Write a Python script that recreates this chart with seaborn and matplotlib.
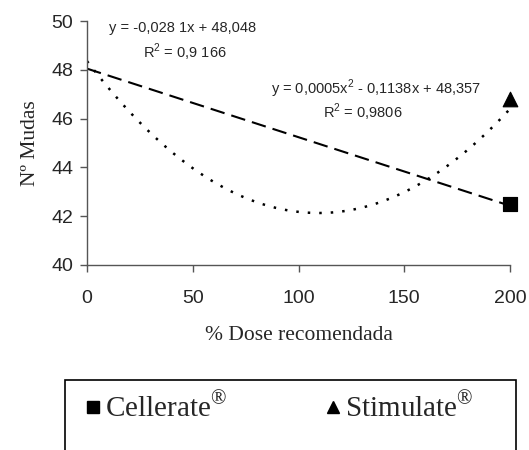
import numpy as np
import pandas as pd
import seaborn as sns
import matplotlib
matplotlib.use('Agg')
from matplotlib import pyplot as plt
from matplotlib.patches import Rectangle

products = ['Cellerate', 'Stimulate']
dose_obs = [200, 200]
mudas_obs = [42.5, 46.8]

# Trendline coefficients as printed on the chart
# (leading quad term printed as 0,0005 is rounded; ~0.00052 matches the drawn curve)
lin_coef = [-0.0281, 48.048]
quad_coef = [0.00052, -0.1138, 48.357]

eq_lin = ['y = -0,028 1x + 48,048', r'R$^\mathregular{2}$ = 0,9 166']
eq_quad = [r'y = 0,0005x$^\mathregular{2}$ - 0,1138x + 48,357', r'R$^\mathregular{2}$ = 0,9806']

sns.set_style('ticks')
plt.rcParams['font.family'] = ['Liberation Sans', 'DejaVu Sans']

fig = plt.figure(figsize=(5.29, 4.5), dpi=100)
ax = fig.add_axes([87/529, 1-265/450, 423/529, 244/450])

xs = np.linspace(0, 200, 201)
trend = pd.DataFrame({'x': xs,
                      'lin': np.polyval(lin_coef, xs),
                      'quad': np.polyval(quad_coef, xs)})

sns.lineplot(data=trend, x='x', y='lin', ax=ax, color='black', lw=1.5,
             linestyle=(0, (7, 3.4)))
sns.lineplot(data=trend, x='x', y='quad', ax=ax, color='black', lw=1.8,
             linestyle=(0, (1, 3.6)))

obs = pd.DataFrame({'dose': dose_obs, 'mudas': mudas_obs, 'prod': products})
sns.scatterplot(data=obs[obs['prod'] == 'Cellerate'], x='dose', y='mudas', ax=ax,
                marker='s', s=110, color='black', edgecolor='black', clip_on=False,
                zorder=5, legend=False)
sns.scatterplot(data=obs[obs['prod'] == 'Stimulate'], x='dose', y='mudas', ax=ax,
                marker='^', s=110, color='black', edgecolor='black', clip_on=False,
                zorder=5, legend=False)

ax.set_xlim(0, 200)
ax.set_ylim(40, 50)
ax.set_xticks([0, 50, 100, 150, 200])
ax.set_yticks([40, 42, 44, 46, 48, 50])
ax.tick_params(labelsize=14, length=5, width=1, color='#555555', pad=5)
ax.tick_params(axis='x', pad=13)
for side in ['left', 'bottom']:
    ax.spines[side].set_color('#555555')
    ax.spines[side].set_linewidth(1)
sns.despine(ax=ax)

ax.set_xlabel('% Dose recomendada', family='Liberation Serif', fontsize=15.5, labelpad=14)
ax.set_ylabel('Nº Mudas', family='Liberation Serif', fontsize=15.5, labelpad=8)

ax.text(183/529, 1-28/450, eq_lin[0], transform=fig.transFigure, ha='center', va='center', fontsize=10.5)
ax.text(185/529, 1-52/450, eq_lin[1], transform=fig.transFigure, ha='center', va='center', fontsize=10.5)
ax.text(376/529, 1-89/450, eq_quad[0], transform=fig.transFigure, ha='center', va='center', fontsize=10.5)
ax.text(363/529, 1-112/450, eq_quad[1], transform=fig.transFigure, ha='center', va='center', fontsize=10.5)

# legend box runs off the bottom of the figure
fig.patches.append(Rectangle((65/529, -0.2), 451/529, 0.2 + 1-380/450,
                             transform=fig.transFigure, fill=False,
                             edgecolor='black', lw=1.2))
h1 = plt.Line2D([], [], marker='s', color='black', ls='none', ms=8)
h2 = plt.Line2D([], [], marker='^', color='black', ls='none', ms=8.5)
fig.legend([h1, h2], [r'Cellerate$^\mathregular{®}$', r'Stimulate$^\mathregular{®}$'],
           loc='center left', bbox_to_anchor=(77/529, 1-408/450), ncol=2,
           frameon=False, prop={'family': 'Liberation Serif', 'size': 21},
           handletextpad=0.05, handlelength=0.7, columnspacing=3.3,
           borderpad=0.2, borderaxespad=0)

fig.savefig('out.png', dpi=100)
